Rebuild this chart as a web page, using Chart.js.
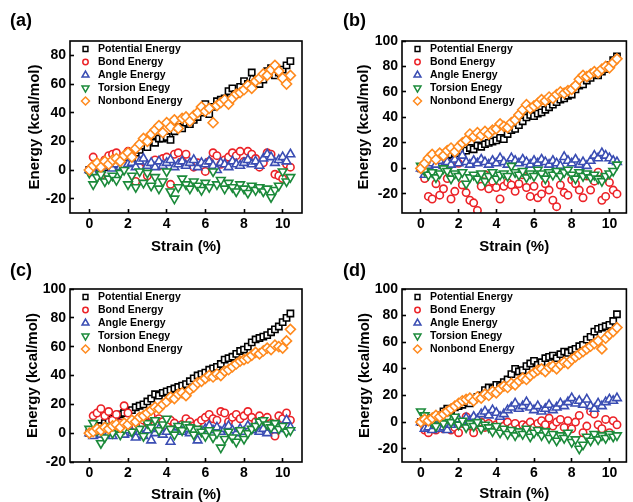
<!DOCTYPE html>
<html>
<head>
<meta charset="utf-8">
<script src="https://cdn.jsdelivr.net/npm/chart.js@4.4.1/dist/chart.umd.min.js"></script>
<style>
	body { margin: 0; background: #fff; width: 633px; height: 502px; overflow: hidden; position: relative; font-family: "Liberation Sans", Arial, sans-serif; }
	.panel { position: absolute; }
	.tag { position: absolute; font-weight: bold; font-size: 18px; line-height: 18px; color: #000; }
</style>
</head>
<body>
<div class="panel" style="left:0;top:0"><canvas id="chartA" width="316" height="260"></canvas></div>
<div class="panel" style="left:316px;top:0"><canvas id="chartB" width="317" height="260"></canvas></div>
<div class="panel" style="left:0;top:250px"><canvas id="chartC" width="316" height="260"></canvas></div>
<div class="panel" style="left:316px;top:250px"><canvas id="chartD" width="317" height="260"></canvas></div>
<div class="tag" style="left:10px;top:11px">(a)</div>
<div class="tag" style="left:343px;top:11px">(b)</div>
<div class="tag" style="left:10px;top:261px">(c)</div>
<div class="tag" style="left:343px;top:261px">(d)</div>
<script>
// strain values shared by all panels (%)
const strain = [0, 0.2, 0.4, 0.6, 0.8, 1, 1.2, 1.4, 1.6, 1.8,
	2, 2.2, 2.4, 2.6, 2.8, 3, 3.2, 3.4, 3.6, 3.8,
	4, 4.2, 4.4, 4.6, 4.8, 5, 5.2, 5.4, 5.6, 5.8,
	6, 6.2, 6.4, 6.6, 6.8, 7, 7.2, 7.4, 7.6, 7.8,
	8, 8.2, 8.4, 8.6, 8.8, 9, 9.2, 9.4, 9.6, 9.8,
	10, 10.2, 10.4];

const seriesNames = ['Potential Energy', 'Bond Energy', 'Angle Energy', 'Torsion Enegy', 'Nonbond Energy'];
const xTicks = [0, 2, 4, 6, 8, 10];
const yTicksA = [-20, 0, 20, 40, 60, 80];
const yTicksB = [-20, 0, 20, 40, 60, 80, 100];
const yTicksC = [-20, 0, 20, 40, 60, 80, 100];
const yTicksD = [-20, 0, 20, 40, 60, 80, 100];

// (a)
const potentialA = [0, 1, 3, 4, 2, 5, 6, 4, 8, 7, 9, 8, 12, 14, 17, 16, 20, 19, 22, 22, 23, 21, 27, 30, 29, 33, 32, 35, 37, 40, 46, 39, 44, 48, 49, 50, 55, 57, 53, 58, 62, 60, 68, 61, 60, 63, 69, 71, 66, 68, 70, 73, 76];
const bondA = [0, 9, 3, -4, 7, 10, 11, 12, 6, 3, 13, 10, -8, 2, 6, -4, 4, 7, 3, 8, 9, -10, 11, 12, 6, 11, 4, 2, 5, 3, -1, 6, 12, 10, 4, 7, 9, 12, 10, 13, 6, 13, 11, 8, 2, 5, 12, 11, -3, -4, -6, 4, 2];
const angleA = [0, -2, 2, 0, 5, 3, 1, 4, 2, 3, 4, 5, 2, 6, 8, 3, 5, 2, 6, 3, 5, 7, 2, 4, 6, 3, 5, 7, 2, 5, 4, 6, 3, 0, 5, 4, 2, 6, 4, 3, 5, 7, 4, 6, 3, 8, 11, 9, 5, 7, 9, 6, 11];
const torsionA = [-2, -10, -5, -3, -8, -6, -4, -7, -2, 0, -10, -4, -12, -1, -9, -2, -11, -5, -13, -8, -1, -15, -20, -12, -6, -10, -13, -8, -11, -14, -9, -12, -1, -10, -7, -13, -9, -12, -15, -10, -13, -16, -11, -14, -12, -15, -13, -19, -14, -11, -1, -8, -5];
const nonbondA = [0, 3, 5, 2, 6, 4, 7, 8, 6, 10, 12, 9, 15, 18, 22, 20, 25, 28, 31, 26, 33, 30, 35, 29, 36, 37, 34, 38, 40, 44, 41, 43, 33, 45, 47, 49, 46, 50, 53, 54, 56, 59, 57, 62, 64, 67, 66, 70, 73, 69, 64, 60, 66];

// (b)
const potentialB = [0, 2, 4, 5, 7, 8, 7, 10, 11, 12, 12, 13, 14, 16, 15, 18, 17, 19, 20, 21, 22, 24, 23, 27, 30, 31, 34, 37, 40, 42, 41, 43, 44, 46, 48, 50, 52, 54, 55, 57, 58, 62, 65, 66, 69, 71, 74, 73, 76, 78, 81, 85, 88];
const bondB = [0, -8, -22, -24, -12, -21, -16, -8, -24, -18, 4, -13, -19, -25, -27, -33, -14, -5, -16, -10, -15, -24, -14, -11, -13, -18, -12, -5, -15, -22, -14, -23, -20, -12, -17, -25, -30, -13, -19, -21, -9, -12, -17, -23, -6, -17, -10, -3, -25, -22, -11, -17, -20];
const angleB = [0, -5, 2, 4, 3, 6, 2, 5, 3, 7, 4, 10, 5, 3, 6, 4, 7, 5, 3, 6, 4, 8, 5, 3, 8, 6, 4, 7, 5, 3, 6, 4, 7, 5, 3, 6, 4, 2, 9, 6, 4, 7, 3, 5, 2, 6, 10, 8, 12, 10, 8, 6, 5];
const torsionB = [2, -2, -5, -3, -7, -4, 0, -2, -8, -4, -6, -3, -12, -7, -5, -8, -4, -10, -6, -3, -8, -5, -4, -6, 2, -3, -5, -2, -7, -4, -6, -1, -4, -8, -3, -5, -2, -6, -3, -1, -5, -8, -3, -6, -4, -7, -5, -8, -10, -6, -4, -2, 3];
const nonbondB = [0, 4, 8, 11, 7, 12, 10, 14, 16, 13, 17, 20, 22, 27, 25, 28, 26, 29, 27, 30, 31, 35, 33, 32, 36, 38, 42, 46, 50, 47, 49, 51, 54, 53, 56, 55, 58, 60, 59, 61, 62, 65, 70, 73, 72, 74, 76, 75, 78, 80, 79, 83, 86];

// (c)
const potentialC = [0, 2, 4, 5, 7, 8, 10, 12, 13, 14, 15, 16, 18, 19, 20, 22, 24, 27, 26, 28, 29, 30, 31, 32, 33, 34, 36, 38, 40, 41, 42, 44, 45, 46, 48, 51, 52, 53, 55, 57, 58, 60, 63, 65, 66, 67, 68, 70, 72, 74, 77, 80, 83];
const bondC = [0, 12, 14, 17, 12, 15, 9, 13, 7, 19, 14, 8, 5, 11, 9, 7, 12, 6, 10, 8, 5, 9, 7, 4, 6, 10, 8, 5, 7, 9, 11, 13, 10, 9, 15, 14, 8, 11, 13, 10, 12, 15, 11, 8, 12, 9, 11, 7, -2, 12, 10, 14, 9];
const angleC = [0, -2, 1, -1, 2, 0, -2, 1, 3, -1, 2, 0, -3, 1, -2, 2, -5, 0, 3, -1, 1, -6, 2, 4, 1, 3, 0, 2, -5, 1, 3, 5, 2, 4, 1, 3, 5, 2, 0, 3, 1, 5, 2, 4, 1, 3, 0, 4, 2, 5, 3, 9, 4];
const torsionC = [3, 7, 2, -7, -3, 5, 0, 4, -1, 3, 6, 1, 8, 3, -2, 7, 4, 9, 2, 6, 10, 3, -1, 5, 2, 6, 4, -1, 3, 1, -2, 2, -3, 0, -10, -4, 1, -3, -6, 2, -4, 0, 3, 5, 8, 9, 6, 4, 7, 3, 5, 1, 2];
const nonbondC = [0, 1, 3, 2, 4, 3, 5, 6, 4, 7, 6, 9, 8, 11, 12, 14, 16, 18, 17, 20, 22, 25, 24, 27, 28, 26, 30, 32, 35, 36, 38, 40, 39, 41, 40, 43, 44, 46, 48, 50, 51, 52, 54, 56, 55, 57, 59, 58, 61, 60, 59, 64, 72];

// (d)
const potentialD = [0, 1, 2, 3, 4, 5, 8, 10, 9, 11, 12, 13, 15, 14, 17, 19, 20, 24, 26, 25, 28, 27, 30, 32, 36, 40, 38, 39, 42, 44, 46, 43, 45, 48, 49, 50, 48, 51, 53, 52, 54, 55, 57, 58, 62, 64, 68, 70, 71, 72, 73, 76, 81];
const bondD = [0, -6, -8, -4, -6, -3, -5, -2, -6, -4, -8, -1, 4, -3, -8, -2, 0, -4, -1, -5, -2, 1, -3, 0, -4, -1, -5, -2, -3, 0, -4, -1, 1, -2, 3, -3, 0, 2, -4, 1, -5, 0, 5, -8, -3, 8, 6, -2, -5, 2, -8, 1, -2];
const angleD = [0, -5, -4, -6, -3, -5, -4, -6, -2, 0, 2, -1, 3, 1, 4, 2, 6, 8, 5, 9, 7, 4, 6, 9, 11, 14, 10, 12, 15, 11, 9, 12, 8, 10, 13, 9, 11, 14, 12, 15, 18, 14, 16, 13, 17, 12, 10, 14, 12, 15, 17, 16, 18];
const torsionD = [8, 5, 2, 0, -3, 2, -1, 3, 0, 4, -2, 1, -4, -1, -3, 0, -5, -2, -4, -7, -3, -8, -5, -9, -6, -10, -7, -9, -5, -11, -8, -6, -10, -7, -12, -9, -14, -10, -12, -8, -15, -13, -20, -17, -11, -14, -9, -13, -10, -12, -9, -11, -10];
const nonbondD = [0, 2, 1, 3, 5, 4, 6, 8, 10, 12, 14, 16, 17, 18, 16, 19, 18, 21, 20, 23, 22, 25, 27, 26, 29, 28, 31, 33, 32, 35, 37, 39, 40, 38, 41, 42, 40, 43, 45, 44, 47, 49, 51, 53, 55, 57, 59, 61, 55, 63, 66, 68, 71];

document.addEventListener('DOMContentLoaded', () => {

	const FONT = '"Liberation Sans", Arial, sans-serif';
	Chart.defaults.font.family = FONT;
	Chart.defaults.color = '#000';

	// marker look of each series, same order as seriesNames
	const markers = [
		{ color: '#000000', style: 'rect', rotation: 0, radius: 4.4 },
		{ color: '#ec2227', style: 'circle', rotation: 0, radius: 3.7 },
		{ color: '#3a4db3', style: 'triangle', rotation: 0, radius: 5 },
		{ color: '#1b8a3a', style: 'triangle', rotation: 180, radius: 5 },
		{ color: '#ff8a1e', style: 'rectRot', rotation: 0, radius: 5 },
	];

	// box around the plot area
	const frame = {
		id: 'frame',
		afterDraw(chart) {
			const { ctx, chartArea: a } = chart;
			ctx.save();
			ctx.strokeStyle = '#000';
			ctx.lineWidth = 1.6;
			ctx.strokeRect(a.left, a.top, a.right - a.left, a.bottom - a.top);
			ctx.restore();
		}
	};

	// legend drawn inside the top-left corner of the plot area
	const insideLegend = {
		id: 'insideLegend',
		afterDatasetsDraw(chart) {
			const { ctx, chartArea: a } = chart;
			ctx.save();
			seriesNames.forEach((name, i) => {
				const m = markers[i];
				const y = a.top + 8 + i * 13;
				ctx.fillStyle = '#fff';
				ctx.strokeStyle = m.color;
				ctx.lineWidth = 1.5;
				Chart.helpers.drawPoint(ctx, { pointStyle: m.style, rotation: m.rotation, radius: m.radius - 1, borderWidth: 1.5 }, a.left + 15.5, y);
				ctx.fillStyle = '#000';
				ctx.font = 'bold 10.5px ' + FONT;
				ctx.textAlign = 'left';
				ctx.textBaseline = 'middle';
				ctx.fillText(name, a.left + 28, y + 0.5);
			});
			ctx.restore();
		}
	};

	const makePanel = (id, series, yMin, yMax, yTicks, xMax, box) => {
		const datasets = series.map((values, i) => {
			const m = markers[i];
			return {
				label: seriesNames[i],
				data: strain.map((x, k) => ({ x: x, y: values[k] })),
				showLine: i === 0, // potential energy points are joined by a thin line
				borderColor: m.color,
				borderWidth: 1.2,
				pointStyle: m.style,
				pointRotation: m.rotation,
				pointRadius: m.radius,
				pointBorderWidth: 1.6,
				pointBorderColor: m.color,
				pointBackgroundColor: '#fff',
				order: 5 - i, // later series drawn on top
			};
		});

		return new Chart(document.getElementById(id), {
			type: 'scatter',
			data: { datasets: datasets },
			options: {
				responsive: false,
				animation: false,
				events: [],
				layout: { padding: { left: box.left, top: box.top, right: box.right, bottom: 0 } },
				plugins: { legend: { display: false }, tooltip: { enabled: false } },
				scales: {
					x: {
						type: 'linear',
						min: -1,
						max: xMax,
						afterBuildTicks: (scale) => { scale.ticks = xTicks.map(v => ({ value: v })); },
						afterFit: (scale) => { scale.height = box.xHeight; },
						grid: { drawOnChartArea: false, drawTicks: true, tickLength: -4, color: '#000', tickWidth: 1.6 },
						border: { display: false },
						ticks: { padding: 7, color: '#000', font: { size: 14, weight: 'bold' }, maxRotation: 0 },
						title: { display: true, text: 'Strain (%)', color: '#000', font: { size: 15, weight: 'bold' }, padding: { top: 0, bottom: box.xTitlePad } },
					},
					y: {
						type: 'linear',
						min: yMin,
						max: yMax,
						afterBuildTicks: (scale) => { scale.ticks = yTicks.map(v => ({ value: v })); },
						afterFit: (scale) => { scale.width = box.yWidth; },
						grid: { drawOnChartArea: false, drawTicks: true, tickLength: -4, color: '#000', tickWidth: 1.6 },
						border: { display: false },
						ticks: { padding: 8, color: '#000', font: { size: 14, weight: 'bold' } },
						title: { display: true, text: 'Energy (kcal/mol)', color: '#000', font: { size: 15, weight: 'bold' }, padding: { top: 4, bottom: 0 } },
					},
				},
			},
			plugins: [frame, insideLegend],
		});
	};

	makePanel('chartA', [potentialA, bondA, angleA, torsionA, nonbondA], -30, 90, yTicksA, 11,
		{ left: 22, top: 41, right: 14, yWidth: 48, xHeight: 47, xTitlePad: 4 });
	makePanel('chartB', [potentialB, bondB, angleB, torsionB, nonbondB], -35, 100, yTicksB, 10.9,
		{ left: 34.5, top: 41, right: 1, yWidth: 51.5, xHeight: 47, xTitlePad: 4 });
	makePanel('chartC', [potentialC, bondC, angleC, torsionC, nonbondC], -20, 100, yTicksC, 11,
		{ left: 20, top: 39, right: 14, yWidth: 50, xHeight: 48, xTitlePad: 6 });
	makePanel('chartD', [potentialD, bondD, angleD, torsionD, nonbondD], -30, 100, yTicksD, 10.9,
		{ left: 36, top: 39, right: 1, yWidth: 50, xHeight: 48, xTitlePad: 7 });
});
</script>
</body>
</html>
